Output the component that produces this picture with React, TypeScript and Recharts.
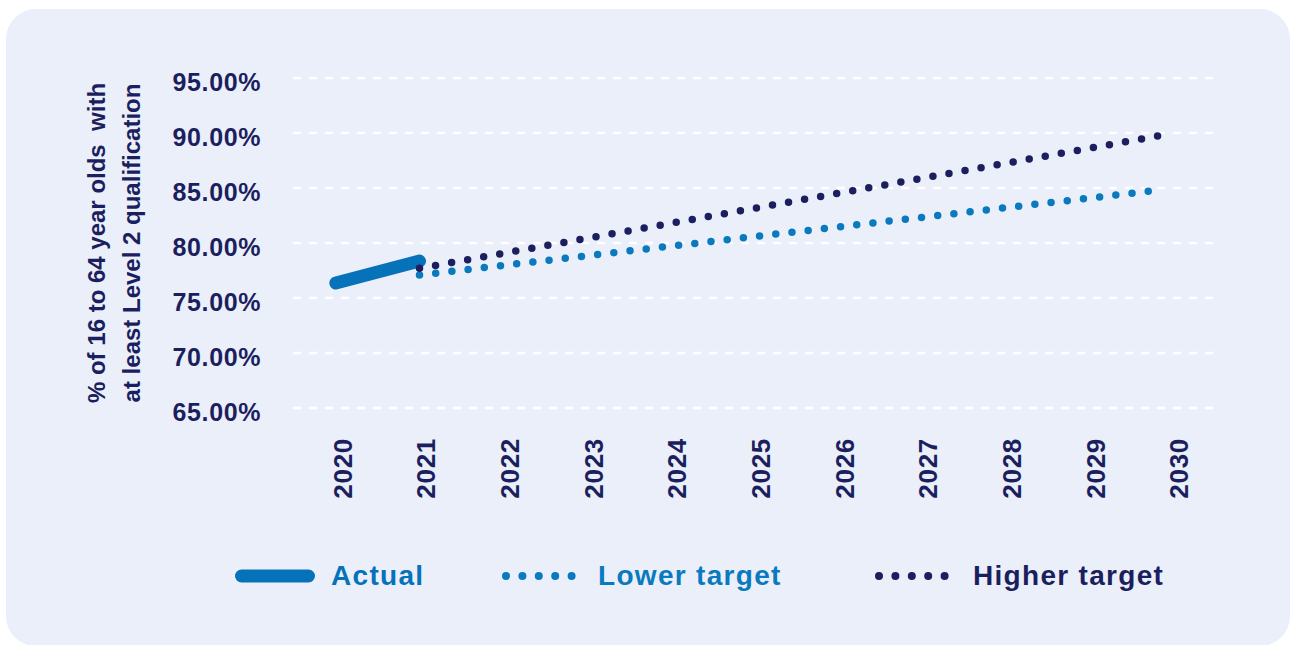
import React from 'react';
import { LineChart, Line, XAxis, YAxis, CartesianGrid } from 'recharts';

// ---- data ----
const yearTicks = [2020, 2021, 2022, 2023, 2024, 2025, 2026, 2027, 2028, 2029, 2030];
const percentTicks = [65, 70, 75, 80, 85, 90, 95];
const actualYears = [2019.92, 2020.92];
const actualValues = [76.36, 78.36];
const lowerYears = [2020.92, 2029.75];
const lowerValues = [77.09, 84.8];
const higherYears = [2020.92, 2029.75];
const higherValues = [77.7, 89.73];
const seriesNames = ['Actual', 'Lower target', 'Higher target'];
const yAxisTitleLines = ['% of 16 to 64 year olds  with', 'at least Level 2 qualification'];

const actualData = actualYears.map((x, i) => ({ x, v: actualValues[i] }));
const lowerData = lowerYears.map((x, i) => ({ x, v: lowerValues[i] }));
const higherData = higherYears.map((x, i) => ({ x, v: higherValues[i] }));

// ---- styles ----
const NAVY = '#1c1f5e';
const BLUE = '#0672ba';
const BLUE2 = '#0a7abf';
const FONT = '"Liberation Sans", Arial, sans-serif';

const XTick = (props: any) => {
  const { x, y, payload } = props;
  return (
    <text
      x={x}
      y={y}
      transform={`rotate(-90, ${x}, ${y})`}
      textAnchor="end"
      dominantBaseline="central"
      fill={NAVY}
      fontFamily={FONT}
      fontWeight={700}
      fontSize={26}
      letterSpacing={0.7}
    >
      {payload.value}
    </text>
  );
};

const YTick = (props: any) => {
  const { x, y, payload } = props;
  return (
    <text
      x={x}
      y={y + 4}
      textAnchor="end"
      dominantBaseline="central"
      fill={NAVY}
      fontFamily={FONT}
      fontWeight={700}
      fontSize={25}
      letterSpacing={0.6}
    >
      {Number(payload.value).toFixed(2) + '%'}
    </text>
  );
};

const YTitle = (props: any) => {
  const vb = props.viewBox || { x: 0, y: 78, width: 293, height: 330 };
  const cy = vb.y + vb.height / 2;
  const baselines = [vb.x + 105, vb.x + 139.5];
  return (
    <g>
      {yAxisTitleLines.map((t, i) => (
        <text
          key={i}
          transform={`translate(${baselines[i]}, ${cy}) rotate(-90)`}
          textAnchor="middle"
          fill={NAVY}
          fontFamily={FONT}
          fontWeight={700}
          fontSize={24}
          style={{ whiteSpace: 'pre' }}
        >
          {t}
        </text>
      ))}
    </g>
  );
};

const legendColors = [BLUE, BLUE2, NAVY];

const LegendIcon = ({ i }: { i: number }) => {
  if (i === 0) {
    return (
      <svg width={80} height={14} style={{ display: 'block' }}>
        <line x1={6.5} y1={7} x2={73.5} y2={7} stroke={BLUE} strokeWidth={13} strokeLinecap="round" />
      </svg>
    );
  }
  return (
    <svg width={80} height={14} style={{ display: 'block' }}>
      <line
        x1={4}
        y1={7}
        x2={72}
        y2={7}
        stroke={legendColors[i]}
        strokeWidth={8}
        strokeLinecap="round"
        strokeDasharray="0 16.4"
      />
    </svg>
  );
};

const legendWidths = [267, 373, 300];

export default function App() {
  return (
    <div style={{ position: 'absolute', left: 0, top: 0, width: 1290, height: 645, background: '#ffffff', overflow: 'hidden' }}>
      <div
        style={{
          position: 'absolute',
          left: 6,
          top: 9,
          width: 1284,
          height: 637,
          borderRadius: 30,
          background: '#ebeffa',
        }}
      />
      <div style={{ position: 'absolute', left: 0, top: 0 }}>
        <LineChart width={1290} height={645} margin={{ top: 78, right: 76, bottom: 157, left: 0 }}>
          <CartesianGrid vertical={false} stroke="#ffffff" strokeWidth={2.5} strokeDasharray="8 8" />
          <XAxis
            type="number"
            dataKey="x"
            domain={[2019.408, 2030.416]}
            ticks={yearTicks}
            allowDataOverflow
            axisLine={false}
            tickLine={false}
            tickSize={6}
            tickMargin={24}
            height={80}
            interval={0}
            tick={<XTick />}
          />
          <YAxis
            type="number"
            domain={[65, 95]}
            ticks={percentTicks}
            allowDataOverflow
            axisLine={false}
            tickLine={false}
            tickSize={6}
            tickMargin={26}
            width={293}
            interval={0}
            tick={<YTick />}
            label={{ content: <YTitle /> }}
          />
          <Line
            data={actualData}
            dataKey="v"
            name={seriesNames[0]}
            stroke={BLUE}
            strokeWidth={13}
            strokeLinecap="round"
            dot={false}
            activeDot={false}
            type="linear"
            isAnimationActive={false}
          />
          <Line
            data={lowerData}
            dataKey="v"
            name={seriesNames[1]}
            stroke={BLUE2}
            strokeWidth={7.5}
            strokeLinecap="round"
            strokeDasharray="0 16.3"
            dot={false}
            activeDot={false}
            type="linear"
            isAnimationActive={false}
          />
          <Line
            data={higherData}
            dataKey="v"
            name={seriesNames[2]}
            stroke={NAVY}
            strokeWidth={7.5}
            strokeLinecap="round"
            strokeDasharray="0 16.3"
            dot={false}
            activeDot={false}
            type="linear"
            isAnimationActive={false}
          />
        </LineChart>
      </div>
      <div
        style={{
          position: 'absolute',
          left: 235,
          top: 557,
          height: 38,
          display: 'flex',
          alignItems: 'center',
          fontFamily: FONT,
          fontWeight: 700,
          fontSize: 28,
          letterSpacing: 1.3,
          lineHeight: '38px',
        }}
      >
        {seriesNames.map((n, i) => (
          <div key={n} style={{ display: 'flex', alignItems: 'center', width: legendWidths[i] }}>
            <LegendIcon i={i} />
            <span style={{ marginLeft: i === 2 ? 18 : 16, color: legendColors[i], whiteSpace: 'nowrap' }}>{n}</span>
          </div>
        ))}
      </div>
    </div>
  );
}
